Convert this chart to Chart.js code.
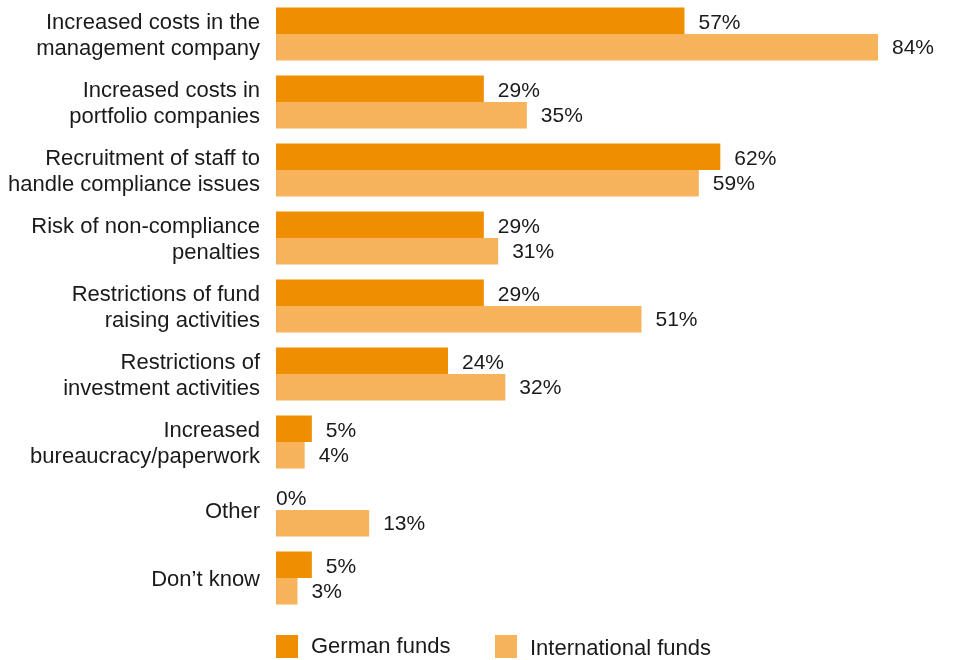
<!DOCTYPE html>
<html>
<head>
<meta charset="utf-8">
<script src="https://cdn.jsdelivr.net/npm/chart.js@4/dist/chart.umd.min.js"></script>
<style>
  html, body { margin: 0; padding: 0; background: #fff; }
  #wrap { width: 955px; height: 660px; }
</style>
</head>
<body>
<div id="wrap"><canvas id="impactChart"></canvas></div>
<script>
// categories (multi-line labels) and shares in percent
const categorias = [
  ["Increased costs in the", "management company"],
  ["Increased costs in", "portfolio companies"],
  ["Recruitment of staff to", "handle compliance issues"],
  ["Risk of non-compliance", "penalties"],
  ["Restrictions of fund", "raising activities"],
  ["Restrictions of", "investment activities"],
  ["Increased", "bureaucracy/paperwork"],
  "Other",
  "Don\u2019t know"
];
const fondosAlemanes = [57, 29, 62, 29, 29, 24, 5, 0, 5];
const fondosInternacionales = [84, 35, 59, 31, 51, 32, 4, 13, 3];
const seriesNombres = ["German funds", "International funds"];
const colores = ["#EF8E00", "#F7B25C"];

const FUENTE = "'Liberation Sans', Arial, Helvetica, sans-serif";
const TEXTO = "#1a1a1a";

// value labels to the right of each bar
const etiquetasValor = {
  id: "etiquetasValor",
  afterDatasetsDraw(chart) {
    const ctx = chart.ctx;
    ctx.save();
    ctx.font = "21px " + FUENTE;
    ctx.fillStyle = TEXTO;
    ctx.textAlign = "left";
    ctx.textBaseline = "middle";
    chart.data.datasets.forEach((ds, i) => {
      const meta = chart.getDatasetMeta(i);
      meta.data.forEach((bar, j) => {
        const v = ds.data[j];
        const gap = v === 0 ? 0 : 14;
        const dy = i === 0 ? 2.5 : 1;
        ctx.fillText(v + "%", bar.x + gap, bar.y + dy);
      });
    });
    ctx.restore();
  }
};

// legend under the plot, starting at the bars' left edge
const leyenda = {
  id: "leyenda",
  afterDraw(chart) {
    const ctx = chart.ctx;
    const x0 = chart.chartArea.left;
    const posiciones = [x0, x0 + 219];
    ctx.save();
    ctx.font = "22px " + FUENTE;
    ctx.textBaseline = "middle";
    ctx.textAlign = "left";
    seriesNombres.forEach((nombre, i) => {
      const x = posiciones[i];
      ctx.fillStyle = colores[i];
      ctx.fillRect(x, 635, 22, 23);
      ctx.fillStyle = TEXTO;
      ctx.fillText(nombre, x + 35, 647 + (i === 1 ? 1.5 : 0));
    });
    ctx.restore();
  }
};

const ctx = document.getElementById("impactChart").getContext("2d");
const impactChart = new Chart(ctx, {
  type: "bar",
  data: {
    labels: categorias,
    datasets: [{
      label: seriesNombres[0],
      data: fondosAlemanes,
      backgroundColor: colores[0]
    }, {
      label: seriesNombres[1],
      data: fondosInternacionales,
      backgroundColor: colores[1]
    }]
  },
  options: {
    indexAxis: "y",
    responsive: true,
    maintainAspectRatio: false,
    animation: false,
    categoryPercentage: 0.78,
    barPercentage: 1,
    layout: { padding: { top: 0, right: 34, bottom: 48, left: 0 } },
    plugins: {
      legend: { display: false },
      tooltip: { enabled: false }
    },
    scales: {
      x: {
        display: false,
        min: 0,
        max: 90
      },
      y: {
        afterFit(scale) {
          scale.width = 276;
          scale.paddingTop = 0;
          scale.paddingBottom = 0;
        },
        grid: { display: false, drawTicks: false },
        border: { display: false },
        ticks: {
          padding: 16,
          labelOffset: 2,
          color: TEXTO,
          font: { family: FUENTE, size: 22, lineHeight: 26 / 22 }
        }
      }
    }
  },
  plugins: [etiquetasValor, leyenda]
});
</script>
</body>
</html>
